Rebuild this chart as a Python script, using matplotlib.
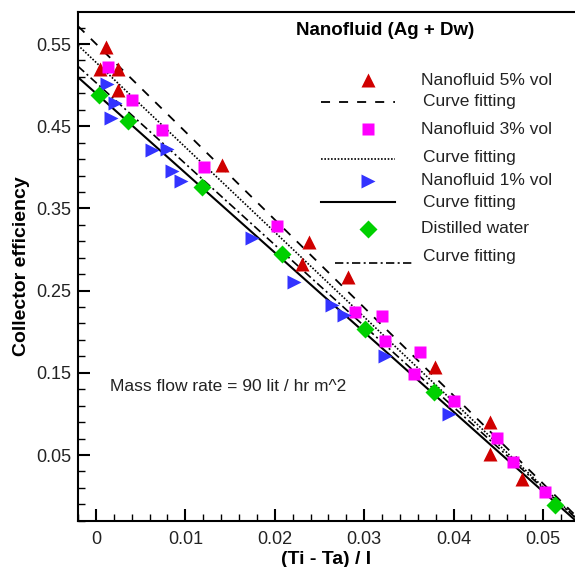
import numpy as np
import matplotlib
matplotlib.use("Agg")
import matplotlib.pyplot as plt

plt.rcParams['font.family'] = ['Liberation Sans', 'DejaVu Sans']

# Nanofluid 5% vol
x_5 = [0.0004, 0.0011, 0.0025, 0.0025, 0.0141, 0.0231, 0.0238, 0.0282, 0.0379, 0.0441, 0.0441, 0.0476]
y_5 = [0.520, 0.546, 0.520, 0.494, 0.403, 0.283, 0.309, 0.266, 0.157, 0.090, 0.051, 0.021]

# Nanofluid 3% vol
x_3 = [0.0013, 0.0040, 0.0074, 0.0121, 0.0203, 0.0290, 0.0320, 0.0323, 0.0362, 0.0356, 0.0400, 0.0449, 0.0467, 0.0502]
y_3 = [0.522, 0.482, 0.445, 0.401, 0.329, 0.224, 0.219, 0.189, 0.175, 0.149, 0.116, 0.071, 0.042, 0.005]

# Nanofluid 1% vol
x_1 = [0.0012, 0.0021, 0.0017, 0.0063, 0.0079, 0.0085, 0.0095, 0.0174, 0.0221, 0.0264, 0.0277, 0.0323, 0.0395]
y_1 = [0.501, 0.478, 0.460, 0.421, 0.422, 0.395, 0.383, 0.314, 0.260, 0.233, 0.220, 0.170, 0.100]

# Distilled water
x_w = [0.0003, 0.0036, 0.0119, 0.0208, 0.0301, 0.0378, 0.0513]
y_w = [0.488, 0.456, 0.376, 0.295, 0.203, 0.127, -0.011]

# curve fitting (slope, intercept)
fit_5 = (-10.70, 0.5503)
fit_3 = (-10.33, 0.5278)
fit_1 = (-9.69, 0.4901)
fit_w = (-9.87, 0.5031)

xlim = (-0.00201, 0.05358)
ylim = (-0.0303, 0.589)

red = '#d00000'
magenta = '#ff00ff'
blue = '#3333ff'
green = '#00d000'

dashed = (0, (5, 5))
dotted = (0, (1, 1))
dashdot = (0, (5, 2, 1.2, 2))

fig = plt.figure(figsize=(5.75, 5.67), dpi=100)
ax = fig.add_axes([78 / 575, 1 - 521 / 567, 497 / 575, 509 / 567])

xx = np.array(xlim)
ax.plot(xx, fit_5[0] * xx + fit_5[1], color='black', lw=1.3, linestyle=dashed)
ax.plot(xx, fit_3[0] * xx + fit_3[1], color='black', lw=1.2, linestyle=dotted)
ax.plot(xx, fit_1[0] * xx + fit_1[1], color='black', lw=1.5, linestyle='-')
ax.plot(xx, fit_w[0] * xx + fit_w[1], color='black', lw=1.2, linestyle=dashdot)

ax.plot(x_5, y_5, '^', color=red, ms=10.5, mec='none')
ax.plot(x_3, y_3, 's', color=magenta, ms=8.5, mec='none')
ax.plot(x_1, y_1, '>', color=blue, ms=10.5, mec='none')
ax.plot(x_w, y_w, 'D', color=green, ms=9.5, mec='none')

ax.set_xlim(xlim)
ax.set_ylim(ylim)
ax.set_xticks([0, 0.01, 0.02, 0.03, 0.04, 0.05])
ax.set_xticklabels(['0', '0.01', '0.02', '0.03', '0.04', '0.05'])
ax.set_xticks(np.arange(-0.002, 0.0536, 0.002), minor=True)
ax.set_yticks([0.05, 0.15, 0.25, 0.35, 0.45, 0.55])
ax.set_yticklabels(['0.05', '0.15', '0.25', '0.35', '0.45', '0.55'])
ax.set_yticks(np.arange(-0.03, 0.589, 0.02), minor=True)
ax.tick_params(which='both', direction='in', labelsize=13, labelcolor='#222222')
ax.tick_params(which='major', length=8.5, width=1.5)
ax.tick_params(which='minor', length=5, width=1.0)
ax.tick_params(axis='y', pad=5)
ax.tick_params(axis='x', pad=7)

ax.spines['right'].set_visible(False)
for s in ['left', 'bottom', 'top']:
    ax.spines[s].set_linewidth(1.5)

ax.set_xlabel('(Ti - Ta) / I', fontsize=14, fontweight='bold', labelpad=2)
ax.set_ylabel('Collector efficiency', fontsize=14, fontweight='bold', labelpad=4)

# legend drawn by hand, like the original
tr = ax.transAxes
ax.text(0.6177, 0.9646, 'Nanofluid (Ag + Dw)', transform=tr, ha='center', va='center',
        fontsize=13.5, fontweight='bold')

mx = 0.5835
ax.plot([mx], [0.8664], '^', color=red, ms=10.5, mec='none', transform=tr, clip_on=False)
ax.plot([mx], [0.7696], 's', color=magenta, ms=8.5, mec='none', transform=tr, clip_on=False)
ax.plot([mx], [0.668], '>', color=blue, ms=10.5, mec='none', transform=tr, clip_on=False)
ax.plot([mx], [0.5737], 'D', color=green, ms=9.5, mec='none', transform=tr, clip_on=False)

ax.plot([0.489, 0.638], [0.8238, 0.8238], color='black', lw=1.3, linestyle=dashed, transform=tr)
ax.plot([0.489, 0.638], [0.7112, 0.7112], color='black', lw=1.2, linestyle=dotted, transform=tr)
ax.plot([0.489, 0.638], [0.6273, 0.6273], color='black', lw=1.5, transform=tr)
ax.plot([0.517, 0.672], [0.5075, 0.5075], color='black', lw=1.2, linestyle=dashdot, transform=tr)

labels = ['Nanofluid 5% vol', 'Curve fitting', 'Nanofluid 3% vol', 'Curve fitting',
          'Nanofluid 1% vol', 'Curve fitting', 'Distilled water', 'Curve fitting']
label_x = [0.690, 0.694, 0.690, 0.694, 0.690, 0.694, 0.690, 0.694]
label_y = [0.8664, 0.8251, 0.7696, 0.7132, 0.668, 0.6267, 0.5737, 0.5206]
for t, lx, ly in zip(labels, label_x, label_y):
    ax.text(lx, ly, t, transform=tr, ha='left', va='center', fontsize=12.5, color='#222222')

ax.text(0.0644, 0.2639, 'Mass flow rate = 90 lit / hr m^2', transform=tr, ha='left', va='center',
        fontsize=12.5, color='#222222')

fig.savefig('out.png', dpi=100)
